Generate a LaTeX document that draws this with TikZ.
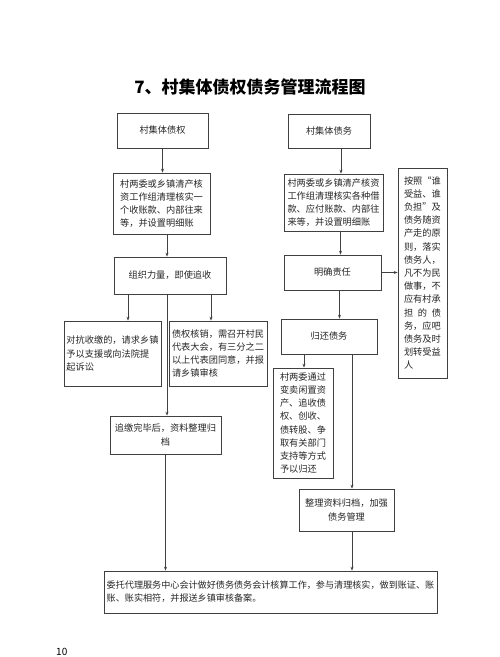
\documentclass[tikz,border=0pt]{standalone}
\usepackage{fontspec}
\setmainfont{Noto Sans CJK SC}
\usetikzlibrary{arrows.meta}
\tikzset{
  box/.style={draw=black!75, line width=0.7pt, inner sep=2pt, align=left,
    font=\fontsize{9.2}{13.2}\selectfont, text=black!85},
  cbox/.style={box, align=center},
  arr/.style={draw=black!75, line width=0.7pt, -{Stealth[length=4pt,width=3pt]}},
  ln/.style={draw=black!75, line width=0.7pt}
}
\newcommand{\bx}[7]{% name, x1, y1, x2, y2, style, text
  \node[#6, minimum width={(#4)-(#2)}, minimum height={(#5)-(#3)}] (#1) at ({((#2)+(#4))/2},{((#3)+(#5))/2}) {#7};}
\begin{document}
\begin{tikzpicture}[x=1pt,y=-1pt]
\fill[white] (0,0) rectangle (500,657);
\useasboundingbox (0,0) rectangle (500,657);
\node[font=\fontsize{17}{20}\selectfont\bfseries] (title) at (250,87) {7、村集体债权债务管理流程图};

\bx{b1}{117}{113}{208}{148}{cbox}{村集体债权}
\bx{b2}{288}{114}{370}{148}{cbox}{村集体债务}
\bx{b3}{113}{173}{210}{234}{box}{村两委或乡镇清产核\\资工作组清理核实一\\个收账款、内部往来\\等，并设置明细账}
\bx{b4}{284}{174}{383}{231}{box}{村两委或乡镇清产核资\\工作组清理核实各种借\\款、应付账款、内部往\\来等，并设置明细账}
\bx{rb}{398}{168}{447}{378}{box}{按照“谁\\受益、谁\\负担”及\\债务随资\\产走的原\\则，落实\\债务人，\\凡不为民\\做事，不\\应有村承\\\makebox[37pt]{担\hfill 的\hfill 债}\\务，应吧\\债务及时\\划转受益\\人}
\bx{b5}{114}{257}{226}{294}{cbox}{组织力量，即使追收}
\bx{b6}{284}{255}{381}{290}{cbox}{明确责任}
\bx{b7}{64}{321}{161}{386}{box}{对抗收缴的，请求乡镇\\予以支援或向法院提\\起诉讼}
\bx{b8}{169}{321}{267}{386}{box}{债权核销，需召开村民\\代表大会，有三分之二\\以上代表团同意，并报\\请乡镇审核}
\bx{b9}{110}{416}{221}{454}{cbox}{追缴完毕后，资料整理归\\档}
\bx{b10}{281}{319}{377}{354}{cbox}{归还债务}
\bx{b11}{273}{368}{333}{478}{box}{村两委通过\\变卖闲置资\\产、追收债\\权、创收、\\债转股、争\\取有关部门\\支持等方式\\予以归还}
\bx{b12}{299}{489}{394}{531}{cbox}{整理资料归档，加强\\债务管理}
\bx{b13}{104}{571}{437}{613}{box, font=\fontsize{9.1}{13}\selectfont}{委托代理服务中心会计做好债务债务会计核算工作，参与清理核实，做到账证、账\\账、账实相符，并报送乡镇审核备案。}

\node[anchor=base west, inner sep=0pt, font=\fontsize{10}{10}\selectfont] (pg) at (56,655) {10};

% connectors
\draw[arr] (b1.south) -- (b1.south |- b3.north);
\draw[arr] ([xshift=12pt]b2.south) -- ([xshift=12pt]b2.south |- b4.north);
\draw[arr] ([xshift=5.5pt]b3.south) -- ([xshift=5.5pt]b3.south |- b5.north);
\draw[arr] ([xshift=7pt]b4.south) -- ([xshift=7pt]b4.south |- b6.north);
\draw[arr] (b6.east) -- (b6.east -| rb.west);
\draw[arr] ([xshift=-42pt]b5.south) -- ([xshift=-42pt]b5.south |- b7.north);
\draw[arr] ([xshift=-3pt]b5.south) -- ([xshift=-3pt]b5.south |- b9.north);
\draw[arr] ([xshift=41pt]b5.south) -- ([xshift=41pt]b5.south |- b8.north);
\draw[arr] ([xshift=7pt]b6.south) -- ([xshift=7pt]b6.south |- b10.north);
\draw[arr] ([xshift=-25pt]b10.south) -- ([xshift=-25pt]b10.south |- b11.north);
\draw[arr] ([xshift=23pt]b10.south) -- ([xshift=23pt]b10.south |- b12.north);
\draw[arr] (b9.south) -- (b9.south |- b13.north);
\draw[arr] ([xshift=5.5pt]b12.south) -- ([xshift=5.5pt]b12.south |- b13.north);
\end{tikzpicture}
\end{document}
